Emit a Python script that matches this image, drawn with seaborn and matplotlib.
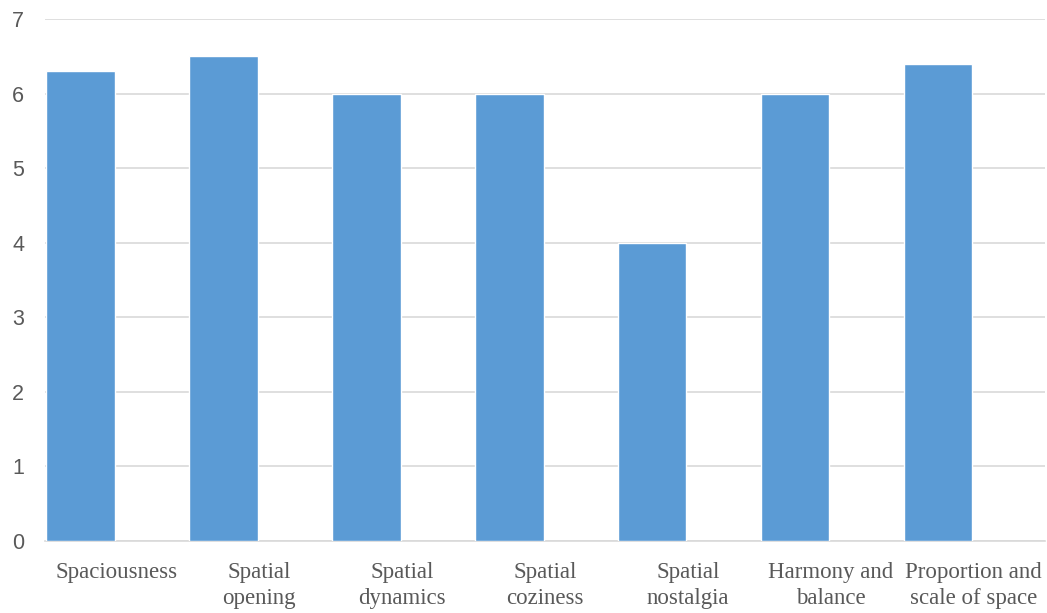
import matplotlib
matplotlib.use("Agg")
import matplotlib.pyplot as plt
import seaborn as sns
import pandas as pd
import numpy as np

# Category labels (two-line where wrapped) and scores
categories = [
    "Spaciousness",
    "Spatial\nopening",
    "Spatial\ndynamics",
    "Spatial\ncoziness",
    "Spatial\nnostalgia",
    "Harmony and\nbalance",
    "Proportion and\nscale of space",
]
scores = [6.3, 6.5, 6.0, 6.0, 4.0, 6.0, 6.4]
# companion series left empty, so each bar sits in the left half of its slot
companion = [np.nan] * len(categories)
y_ticks = [0, 1, 2, 3, 4, 5, 6, 7]

df = pd.DataFrame({
    "category": categories * 2,
    "value": scores + companion,
    "series": ["Score"] * len(categories) + ["Other"] * len(categories),
})

sns.set_style("white")
plt.rcParams["font.family"] = ["Liberation Sans", "DejaVu Sans"]

fig = plt.figure(figsize=(10.47, 6.13), dpi=100)
ax = fig.add_axes([45 / 1047, 1 - 541 / 613, 1000 / 1047, 522 / 613])

sns.barplot(
    data=df, x="category", y="value", hue="series",
    hue_order=["Score", "Other"],
    palette=["#5b9bd5", "#ed7d31"],
    width=1.0, gap=0.04, dodge=True, legend=False,
    saturation=1.0, ax=ax, errorbar=None, zorder=3,
)

ax.set_xlim(-0.5, len(categories) - 0.5)
ax.set_ylim(0, 7)
ax.set_yticks(y_ticks)
ax.set_yticklabels([str(t) for t in y_ticks], fontsize=15.5, color="#595959")
ax.yaxis.grid(True, color="#d9d9d9", linewidth=1.2, zorder=0)
ax.set_axisbelow(True)

ax.set_xticks(range(len(categories)))
ax.set_xticklabels(categories, family=["Liberation Serif", "DejaVu Serif"],
                   fontsize=16.5, color="#595959", linespacing=1.3,
                   ha="center", multialignment="center")
ax.tick_params(axis="x", length=0, pad=15)
ax.tick_params(axis="y", length=0, pad=15)

ax.set_xlabel("")
ax.set_ylabel("")
for side in ["top", "right", "left"]:
    ax.spines[side].set_visible(False)
ax.spines["bottom"].set_color("#d9d9d9")
ax.spines["bottom"].set_linewidth(1.2)

fig.savefig("out.png", dpi=100)
